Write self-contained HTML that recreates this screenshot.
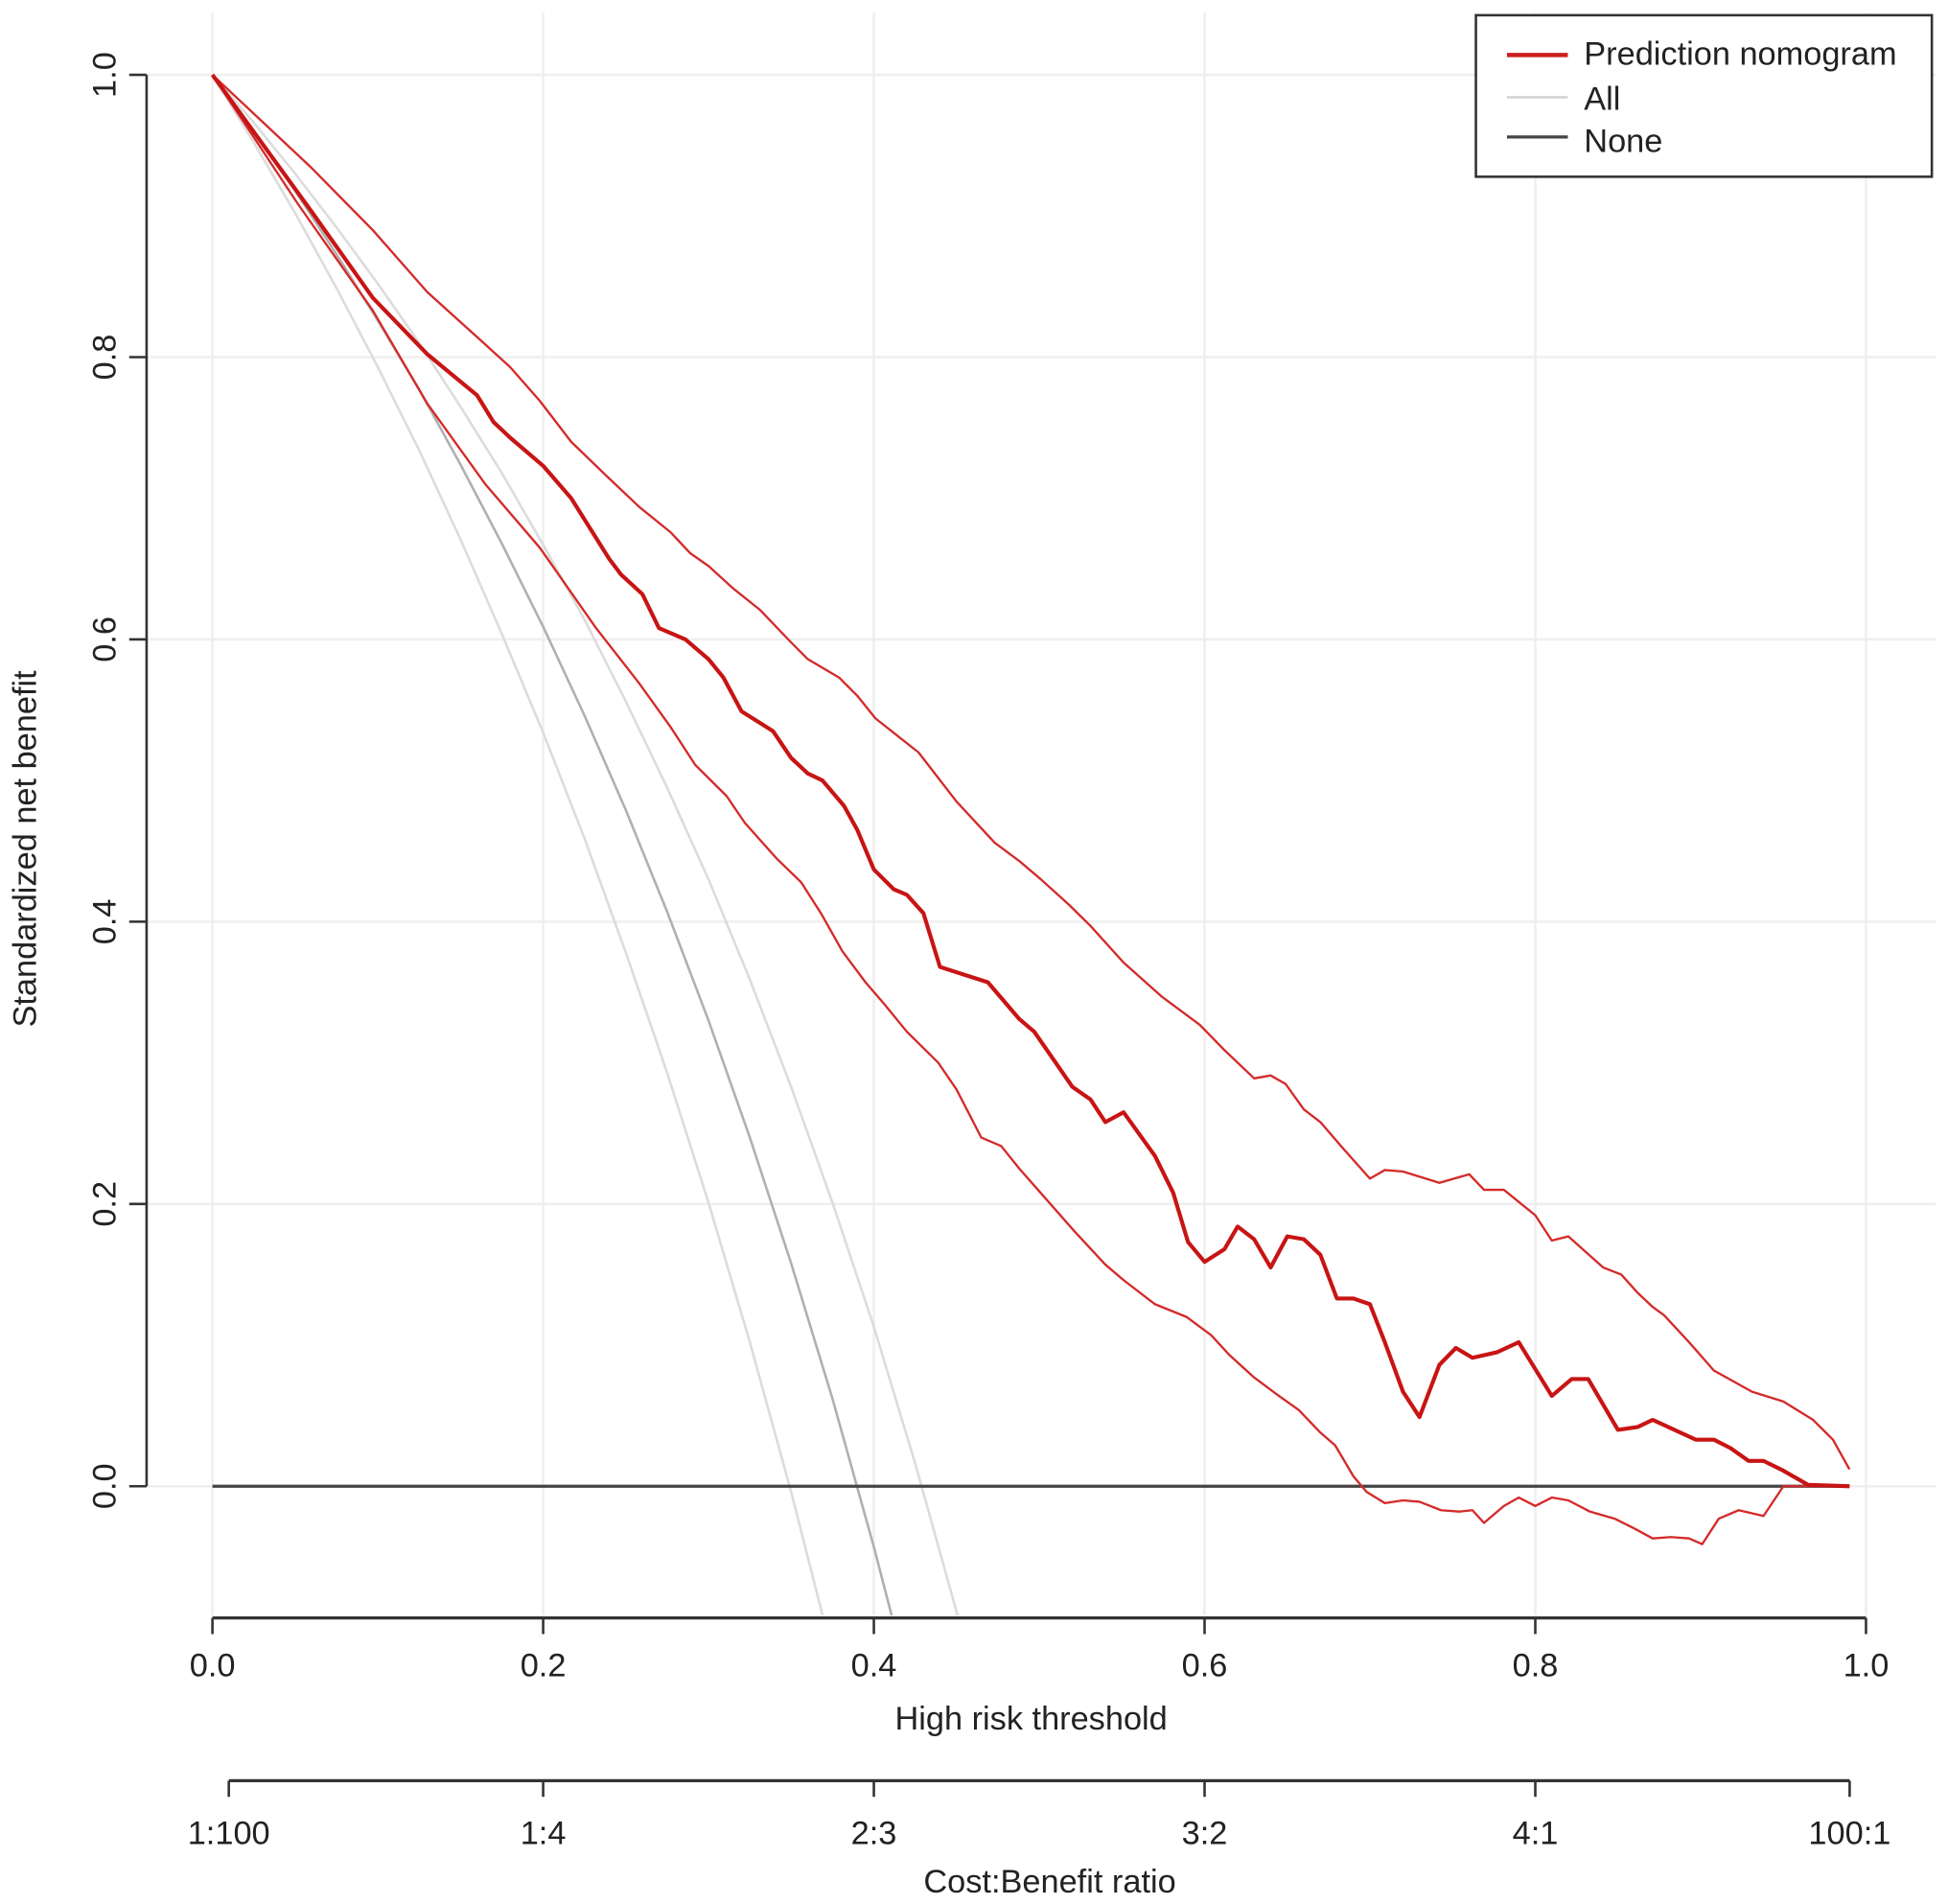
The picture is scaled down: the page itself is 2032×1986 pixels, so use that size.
<!DOCTYPE html>
<html><head><meta charset="utf-8"><style>
html,body{margin:0;padding:0;background:#fff;width:2032px;height:1986px;overflow:hidden}
svg{display:block;font-family:"Liberation Sans",Arial,sans-serif}
</style></head><body>
<svg id="chart" width="2032" height="1986" viewBox="0 0 1568 1532" xmlns="http://www.w3.org/2000/svg">
<defs><clipPath id="plotclip"><rect x="118" y="0" width="1440" height="1300"/></clipPath></defs>
<g id="grid"></g>
<g id="series" clip-path="url(#plotclip)"></g>
<g id="axes"></g>
<text x="830" y="1392" font-size="26.5" text-anchor="middle" fill="#222">High risk threshold</text>
<text x="845" y="1523" font-size="26.5" text-anchor="middle" fill="#222">Cost:Benefit ratio</text>
<text transform="translate(29,683) rotate(-90)" font-size="26.5" text-anchor="middle" fill="#222">Standardized net benefit</text>
<g>
<rect x="1188" y="12" width="367" height="130" fill="#fff" stroke="#333" stroke-width="2"/>
<line x1="1213" y1="44" x2="1262" y2="44" stroke="#cc1f1f" stroke-width="3.5"/>
<text x="1275" y="52" font-size="26.5" fill="#222">Prediction nomogram</text>
<line x1="1213" y1="78" x2="1262" y2="78" stroke="#d3d3d3" stroke-width="2"/>
<text x="1275" y="88" font-size="26.5" fill="#222">All</text>
<line x1="1213" y1="110" x2="1262" y2="110" stroke="#444" stroke-width="2.5"/>
<text x="1275" y="122" font-size="26.5" fill="#222">None</text>
</g>
</svg>
<script>
const xTicks=[0,0.2,0.4,0.6,0.8,1.0];
const xTickLabels=["0.0","0.2","0.4","0.6","0.8","1.0"];
const yTicks=[0,0.2,0.4,0.6,0.8,1.0];
const yTickLabels=["0.0","0.2","0.4","0.6","0.8","1.0"];
const cbTicks=[0.0099,0.2,0.4,0.6,0.8,0.9901];
const cbLabels=["1:100","1:4","2:3","3:2","4:1","100:1"];
const mainT=[0,.06,.097,.13,.16,.17,.18,.20,.217,.24,.247,.26,.27,.286,.30,.309,.32,.339,.35,.36,.369,.382,.39,.40,.412,.42,.43,.44,.469,.488,.497,.51,.52,.531,.54,.551,.57,.581,.59,.60,.612,.62,.63,.64,.65,.66,.67,.68,.69,.70,.709,.72,.73,.742,.752,.762,.777,.79,.80,.81,.822,.832,.85,.862,.871,.897,.908,.918,.929,.938,.95,.965,.99];
const mainV=[1,.903,.842,.802,.773,.754,.743,.723,.70,.657,.646,.632,.608,.60,.586,.573,.549,.535,.516,.505,.50,.482,.465,.437,.423,.419,.406,.368,.357,.331,.322,.30,.283,.274,.258,.265,.234,.208,.173,.159,.168,.184,.175,.155,.177,.175,.164,.133,.133,.129,.102,.067,.049,.086,.098,.091,.095,.102,.083,.064,.076,.076,.040,.042,.047,.033,.033,.027,.018,.018,.011,.001,0];
const upperT=[0,.06,.097,.13,.165,.18,.198,.217,.24,.258,.277,.289,.30,.315,.331,.349,.36,.379,.39,.401,.427,.45,.473,.488,.501,.518,.531,.551,.574,.597,.612,.63,.64,.649,.66,.67,.684,.70,.709,.72,.742,.76,.769,.781,.80,.81,.82,.841,.852,.862,.871,.878,.893,.908,.931,.95,.968,.98,.99];
const upperV=[1,.934,.89,.846,.809,.793,.769,.74,.714,.694,.676,.661,.652,.636,.621,.599,.586,.573,.56,.544,.52,.485,.456,.443,.43,.412,.397,.371,.347,.327,.309,.289,.291,.285,.267,.258,.239,.218,.224,.223,.215,.221,.21,.21,.192,.174,.177,.155,.15,.137,.127,.121,.102,.082,.067,.06,.047,.033,.012];
const lowerT=[0,.052,.097,.13,.165,.198,.232,.258,.277,.292,.311,.322,.341,.356,.368,.381,.395,.406,.42,.439,.45,.465,.477,.488,.503,.521,.54,.551,.57,.589,.604,.615,.63,.645,.657,.67,.679,.69,.698,.709,.72,.73,.743,.754,.762,.769,.781,.79,.80,.81,.82,.833,.848,.86,.871,.882,.893,.901,.911,.923,.938,.95,.99];
const lowerV=[1,.908,.833,.767,.71,.665,.608,.569,.538,.511,.489,.47,.445,.428,.406,.379,.357,.342,.322,.30,.281,.247,.241,.225,.205,.181,.157,.146,.129,.12,.107,.093,.077,.064,.054,.038,.029,.007,-.004,-.012,-.01,-.011,-.017,-.018,-.017,-.026,-.014,-.008,-.014,-.008,-.01,-.018,-.023,-.03,-.037,-.036,-.037,-.041,-.023,-.017,-.021,0,0];
const allT=[0,.025,.05,.075,.1,.125,.15,.175,.2,.225,.25,.275,.3,.325,.35,.375,.4,.425,.45,.475];
const allV=[1,.960,.918,.873,.826,.777,.724,.668,.609,.546,.479,.407,.330,.247,.158,.062,-.043,-.156,-.28,-.41];
const allLowV=[1,.952,.902,.849,.793,.734,.671,.604,.534,.459,.378,.293,.201,.102,-.004,-.119,-.24,-.38,-.52,-.68];
const allHighV=[1,.966,.930,.892,.852,.810,.765,.718,.667,.614,.556,.495,.430,.359,.283,.201,.113,.016,-.089,-.21];
const noneT=[0,0.99];
const noneV=[0,0];

const NS="http://www.w3.org/2000/svg";
const X0=171,X1=1502,Y0=1196,Y1=60;
function xs(t){return X0+t*(X1-X0);}
function ys(v){return Y0-v*(Y0-Y1);}
function mk(tag,attrs,parent){const e=document.createElementNS(NS,tag);for(const k in attrs)e.setAttribute(k,attrs[k]);parent.appendChild(e);return e;}
const grid=document.getElementById('grid'),series=document.getElementById('series'),axes=document.getElementById('axes');
xTicks.forEach(t=>{const l=mk('line',{x1:xs(t),x2:xs(t),y1:10,y2:1300,stroke:'#efefef','stroke-width':2},grid);

});
yTicks.forEach(v=>{const l=mk('line',{x1:118,x2:1558,y1:ys(v),y2:ys(v),stroke:'#efefef','stroke-width':2},grid);

});
function line(T,V,color,w,name){const pts=T.map((t,i)=>xs(t).toFixed(1)+','+ys(V[i]).toFixed(1)).join(' ');
const p=mk('polyline',{points:pts,fill:'none',stroke:color,'stroke-width':w,'stroke-linejoin':'round'},series);

}
line(allT,allLowV,'#dcdcdc',2,'all-ci-lower-line');
line(allT,allHighV,'#dcdcdc',2,'all-ci-upper-line');
line(allT,allV,'#b0b0b0',2,'all-line');
line(noneT,noneV,'#444',2.5,'none-line');
line(upperT,upperV,'#d42a2a',1.8,'nomogram-ci-upper-line');
line(lowerT,lowerV,'#d42a2a',1.8,'nomogram-ci-lower-line');
line(mainT,mainV,'#c81414',3.2,'nomogram-line');
let a=mk('line',{x1:118,x2:118,y1:ys(1),y2:ys(0),stroke:'#333','stroke-width':2},axes);


yTicks.forEach((v,i)=>{const tk=mk('line',{x1:104,x2:118,y1:ys(v),y2:ys(v),stroke:'#333','stroke-width':2},axes);


const tx=mk('text',{transform:`translate(93,${ys(v)}) rotate(-90)`,'font-size':26.5,'text-anchor':'middle',fill:'#222'},axes);
tx.textContent=yTickLabels[i];

});
a=mk('line',{x1:xs(0),x2:xs(1),y1:1302,y2:1302,stroke:'#333','stroke-width':2.5},axes);


xTicks.forEach((t,i)=>{const tk=mk('line',{x1:xs(t),x2:xs(t),y1:1302,y2:1315,stroke:'#333','stroke-width':2},axes);


const tx=mk('text',{x:xs(t),y:1349,'font-size':26.5,'text-anchor':'middle',fill:'#222'},axes);
tx.textContent=xTickLabels[i];

});
a=mk('line',{x1:xs(cbTicks[0]),x2:xs(cbTicks[5]),y1:1433,y2:1433,stroke:'#333','stroke-width':2.5},axes);


cbTicks.forEach((t,i)=>{const tk=mk('line',{x1:xs(t),x2:xs(t),y1:1433,y2:1446,stroke:'#333','stroke-width':2},axes);


const tx=mk('text',{x:xs(t),y:1484,'font-size':26.5,'text-anchor':'middle',fill:'#222'},axes);
tx.textContent=cbLabels[i];

});
</script>
</body></html>
